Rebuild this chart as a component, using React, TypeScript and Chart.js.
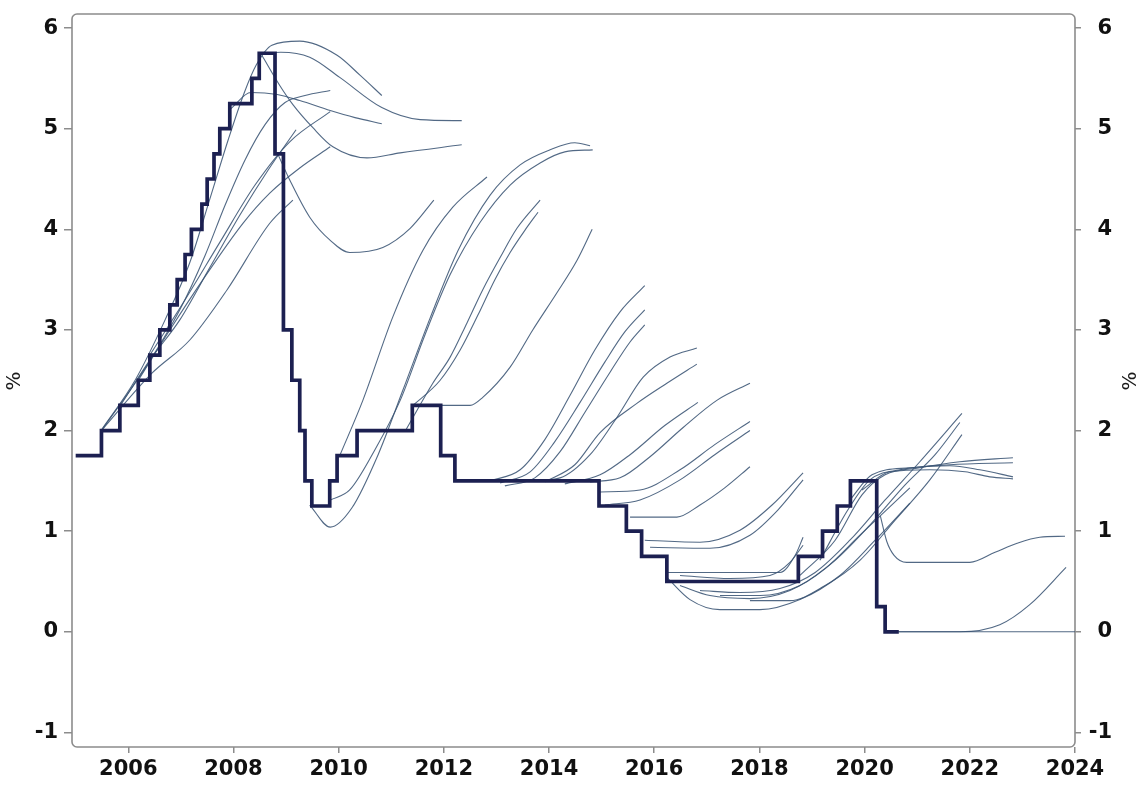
import { useEffect, useRef } from "react";
import { Chart, registerables } from "chart.js";

Chart.register(...registerables);

// ---- tick labels ----
const xTickValues = [2006, 2008, 2010, 2012, 2014, 2016, 2018, 2020, 2022, 2024];
const xTickLabels = ["2006", "2008", "2010", "2012", "2014", "2016", "2018", "2020", "2022", "2024"];
const yTickValues = [-1, 0, 1, 2, 3, 4, 5, 6];
const yTickLabels = ["-1", "0", "1", "2", "3", "4", "5", "6"];
const axisTitle = "%";

// ---- policy rate (value changes at each date) ----
const policyDates = [2005.0, 2005.49, 2005.84, 2006.19, 2006.41, 2006.6, 2006.79, 2006.93, 2007.08, 2007.2, 2007.4, 2007.5, 2007.63, 2007.74, 2007.93, 2008.35, 2008.49, 2008.79, 2008.95, 2009.11, 2009.26, 2009.36, 2009.49, 2009.83, 2009.97, 2010.35, 2011.4, 2011.94, 2012.21, 2014.95, 2015.47, 2015.76, 2016.24, 2018.74, 2019.2, 2019.48, 2019.73, 2020.23, 2020.39, 2020.65];
const policyRates = [1.75, 2.0, 2.25, 2.5, 2.75, 3.0, 3.25, 3.5, 3.75, 4.0, 4.25, 4.5, 4.75, 5.0, 5.25, 5.5, 5.75, 4.75, 3.0, 2.5, 2.0, 1.5, 1.25, 1.5, 1.75, 2.0, 2.25, 1.75, 1.5, 1.25, 1.0, 0.75, 0.5, 0.75, 1.0, 1.25, 1.5, 0.25, 0.0, 0.0];

// ---- forecast paths [year, %] ----
const fcA1 = [[2005.48, 2.0], [2006.13, 2.5], [2006.7, 3.1], [2007.17, 3.67], [2007.55, 4.3], [2007.9, 4.89], [2008.2, 5.35], [2008.43, 5.63], [2008.73, 5.83], [2009.26, 5.87], [2009.97, 5.73], [2010.41, 5.53], [2010.82, 5.33]];
const fcA2 = [[2005.49, 2.0], [2006.32, 2.62], [2006.98, 3.2], [2007.46, 3.74], [2007.84, 4.24], [2008.22, 4.69], [2008.6, 5.04], [2008.98, 5.26], [2009.36, 5.33], [2009.84, 5.38]];
const fcA3 = [[2005.84, 2.24], [2006.41, 2.7], [2006.98, 3.1], [2007.55, 3.62], [2008.12, 4.14], [2008.66, 4.59], [2009.19, 4.99]];
const fcA4 = [[2005.49, 2.0], [2006.45, 2.57], [2007.17, 2.9], [2007.88, 3.4], [2008.69, 4.06], [2009.13, 4.29]];
const fcA5 = [[2006.19, 2.5], [2006.79, 3.0], [2007.42, 3.5], [2008.18, 4.06], [2008.69, 4.36], [2009.26, 4.61], [2009.84, 4.82]];
const fcA6 = [[2006.41, 2.75], [2007.08, 3.3], [2007.74, 3.87], [2008.41, 4.44], [2009.07, 4.87], [2009.84, 5.17]];
const fcA7 = [[2008.54, 5.75], [2008.9, 5.76], [2009.45, 5.71], [2010.02, 5.51], [2010.82, 5.21], [2011.55, 5.09], [2012.34, 5.08]];
const fcA8 = [[2008.54, 5.73], [2008.88, 5.43], [2009.13, 5.24], [2009.51, 5.01], [2009.89, 4.82], [2010.54, 4.71], [2011.17, 4.76], [2012.34, 4.84]];
const fcA9 = [[2008.85, 4.74], [2009.07, 4.49], [2009.45, 4.12], [2009.84, 3.89], [2010.21, 3.77], [2010.84, 3.82], [2011.36, 4.01], [2011.81, 4.29]];
const fcA10 = [[2007.95, 5.2], [2008.33, 5.36], [2008.83, 5.34], [2009.26, 5.28], [2009.84, 5.18], [2010.31, 5.11], [2010.82, 5.05]];

const fcB1 = [[2010.02, 1.75], [2010.46, 2.3], [2011.03, 3.13], [2011.6, 3.79], [2012.17, 4.22], [2012.82, 4.52]];
const fcB2 = [[2009.45, 1.26], [2009.84, 1.04], [2010.25, 1.23], [2010.75, 1.76], [2011.22, 2.4], [2011.74, 3.12], [2012.27, 3.79], [2012.88, 4.34], [2013.45, 4.64], [2014.02, 4.79], [2014.49, 4.86], [2014.78, 4.83]];
const fcB3 = [[2009.84, 1.31], [2010.21, 1.41], [2010.69, 1.81], [2011.17, 2.3], [2011.64, 2.95], [2012.12, 3.55], [2012.69, 4.07], [2013.26, 4.44], [2013.83, 4.66], [2014.3, 4.77], [2014.83, 4.79]];
const fcB4 = [[2011.26, 1.99], [2011.79, 2.47], [2012.12, 2.73], [2012.44, 3.07], [2012.74, 3.4], [2013.07, 3.72], [2013.39, 4.01], [2013.83, 4.29]];
const fcB5 = [[2011.39, 2.24], [2011.93, 2.5], [2012.31, 2.8], [2012.65, 3.15], [2012.97, 3.5], [2013.26, 3.77], [2013.54, 3.99], [2013.79, 4.17]];
const fcB6 = [[2011.6, 2.25], [2012.5, 2.25], [2012.74, 2.33], [2013.26, 2.63], [2013.69, 3.0], [2014.15, 3.37], [2014.53, 3.69], [2014.82, 4.0]];

const fcC1 = [[2012.88, 1.5], [2013.45, 1.61], [2013.92, 1.91], [2014.4, 2.35], [2014.87, 2.8], [2015.35, 3.18], [2015.82, 3.44]];
const fcC2 = [[2013.07, 1.48], [2013.64, 1.59], [2014.11, 1.89], [2014.59, 2.28], [2015.06, 2.68], [2015.44, 2.98], [2015.82, 3.2]];
const fcC3 = [[2013.16, 1.45], [2013.73, 1.53], [2014.21, 1.79], [2014.68, 2.18], [2015.16, 2.58], [2015.54, 2.88], [2015.82, 3.05]];
const fcC4 = [[2013.64, 1.5], [2014.21, 1.53], [2014.78, 1.76], [2015.29, 2.13], [2015.79, 2.53], [2016.3, 2.73], [2016.81, 2.82]];
const fcC5 = [[2013.92, 1.49], [2014.49, 1.66], [2014.97, 1.98], [2015.67, 2.27], [2016.24, 2.47], [2016.81, 2.66]];
const fcC6 = [[2014.3, 1.47], [2014.97, 1.56], [2015.54, 1.76], [2016.2, 2.05], [2016.83, 2.28]];
const fcC7 = [[2014.78, 1.49], [2015.35, 1.53], [2015.92, 1.74], [2016.55, 2.03], [2017.19, 2.3], [2017.82, 2.47]];
const fcC8 = [[2014.97, 1.39], [2015.73, 1.41], [2016.49, 1.61], [2017.15, 1.86], [2017.82, 2.09]];
const fcC9 = [[2015.06, 1.26], [2015.73, 1.31], [2016.49, 1.51], [2017.15, 1.76], [2017.82, 2.0]];
const fcC10 = [[2015.54, 1.14], [2016.43, 1.14], [2016.87, 1.26], [2017.34, 1.43], [2017.82, 1.64]];
const fcC11 = [[2015.82, 0.91], [2016.87, 0.89], [2017.63, 1.01], [2018.24, 1.26], [2018.83, 1.58]];
const fcC12 = [[2015.92, 0.84], [2017.06, 0.83], [2017.82, 0.96], [2018.35, 1.21], [2018.83, 1.51]];

const fcD1 = [[2016.24, 0.59], [2016.87, 0.59], [2018.39, 0.59], [2018.68, 0.76], [2018.83, 0.94]];
const fcD2 = [[2016.49, 0.56], [2017.44, 0.53], [2018.2, 0.56], [2018.58, 0.69], [2018.83, 0.86]];
const fcD3 = [[2016.24, 0.54], [2016.68, 0.32], [2017.25, 0.22], [2018.01, 0.22], [2018.77, 0.32], [2019.53, 0.56], [2020.2, 0.91], [2020.86, 1.28]];
const fcD4 = [[2016.49, 0.46], [2017.06, 0.36], [2017.82, 0.33], [2018.58, 0.41], [2019.25, 0.63], [2019.91, 0.96], [2020.86, 1.43]];
const fcD5 = [[2016.87, 0.41], [2017.63, 0.39], [2018.39, 0.43], [2019.06, 0.59], [2019.72, 0.91], [2020.39, 1.31], [2021.05, 1.69], [2021.85, 2.17]];
const fcD6 = [[2017.25, 0.36], [2018.01, 0.36], [2018.77, 0.46], [2019.44, 0.71], [2020.1, 1.06], [2020.77, 1.46], [2021.34, 1.76], [2021.81, 2.08]];
const fcD7 = [[2017.82, 0.31], [2018.58, 0.31], [2019.25, 0.46], [2019.91, 0.71], [2020.58, 1.11], [2021.24, 1.51], [2021.85, 1.96]];
const fcD8 = [[2018.77, 0.56], [2019.44, 0.91], [2019.95, 1.36], [2020.39, 1.56], [2021.05, 1.63], [2021.81, 1.69], [2022.82, 1.73]];
const fcD9 = [[2019.15, 0.71], [2019.68, 1.21], [2020.1, 1.51], [2020.67, 1.61], [2021.62, 1.66], [2022.82, 1.68]];
const fcD10 = [[2019.72, 1.31], [2020.14, 1.56], [2020.86, 1.63], [2021.62, 1.65], [2022.19, 1.61], [2022.82, 1.54]];
const fcD11 = [[2019.95, 1.41], [2020.48, 1.59], [2021.24, 1.61], [2021.91, 1.59], [2022.38, 1.54], [2022.82, 1.52]];

const fcE1 = [[2020.3, 1.15], [2020.42, 0.9], [2020.56, 0.76], [2020.8, 0.69], [2022.0, 0.69], [2022.48, 0.79], [2022.9, 0.88], [2023.33, 0.94], [2023.81, 0.95]];
const fcE2 = [[2020.65, 0.0], [2021.81, 0.0], [2022.57, 0.07], [2023.14, 0.27], [2023.83, 0.64]];
const fcE3 = [[2020.39, 0.0], [2024.0, 0.0]];

const forecasts = [
  fcA1, fcA2, fcA3, fcA4, fcA5, fcA6, fcA7, fcA8, fcA9, fcA10,
  fcB1, fcB2, fcB3, fcB4, fcB5, fcB6,
  fcC1, fcC2, fcC3, fcC4, fcC5, fcC6, fcC7, fcC8, fcC9, fcC10, fcC11, fcC12,
  fcD1, fcD2, fcD3, fcD4, fcD5, fcD6, fcD7, fcD8, fcD9, fcD10, fcD11,
  fcE1, fcE2, fcE3,
];

const FORECAST_COLOR = "rgba(58, 84, 116, 0.88)";
const POLICY_COLOR = "#1c2051";
const FRAME_COLOR = "#8c8c8c";
const LABEL_COLOR = "#111111";

export default function App() {
  const ref = useRef<HTMLCanvasElement>(null);

  useEffect(() => {
    const canvas = ref.current;
    if (!canvas) return;

    const forecastSets = forecasts.map((f) => ({
      data: f.map(([x, y]) => ({ x, y })),
      borderColor: FORECAST_COLOR,
      borderWidth: 1.1,
      pointRadius: 0,
      cubicInterpolationMode: "monotone" as const,
      fill: false,
    }));

    const policySet = {
      data: policyDates.map((d, i) => ({ x: d, y: policyRates[i] })),
      stepped: "before" as const,
      borderColor: POLICY_COLOR,
      borderWidth: 3.7,
      pointRadius: 0,
      borderJoinStyle: "miter" as const,
      borderCapStyle: "butt" as const,
      fill: false,
      order: -1,
    };

    const framePlugin = {
      id: "frame",
      beforeDatasetsDraw(chart: any) {
        const { ctx, chartArea: a } = chart;
        ctx.save();
        ctx.strokeStyle = FRAME_COLOR;
        ctx.lineWidth = 1.6;
        ctx.beginPath();
        ctx.roundRect(a.left, a.top, a.right - a.left, a.bottom - a.top, 5);
        ctx.stroke();
        ctx.restore();
      },
    };

    const titlePlugin = {
      id: "pctTitles",
      afterDraw(chart: any) {
        const c = chart.ctx;
        c.save();
        c.font = '20px "DejaVu Sans"';
        c.fillStyle = "#1a1a1a";
        c.textAlign = "center";
        c.textBaseline = "middle";
        for (const x of [15, 1131]) {
          c.save();
          c.translate(x, 381);
          c.rotate(-Math.PI / 2);
          c.fillText(axisTitle, 0, 0);
          c.restore();
        }
        c.restore();
      },
    };

    const xFont = { family: '"DejaVu Sans"', size: 21, weight: "bold" as const };
    const yFont = { family: '"DejaVu Sans"', size: 21, weight: "bold" as const, lineHeight: 0.7 };
    const grid = (len: number) => ({
      drawOnChartArea: false,
      drawTicks: true,
      tickLength: len,
      color: FRAME_COLOR,
      lineWidth: 1.5,
    });
    const yScaleBase = {
      type: "linear" as const,
      min: -1.145,
      max: 6.14,
      afterBuildTicks: (s: any) => {
        s.ticks = yTickValues.map((v) => ({ value: v }));
      },
      border: { display: false },
    };

    const chart = new Chart(canvas, {
      type: "line",
      data: { datasets: [policySet as any, ...(forecastSets as any[])] },
      options: {
        animation: false,
        responsive: false,
        devicePixelRatio: 1,
        layout: { padding: { top: 14, left: 0, right: 30, bottom: 0 } },
        plugins: { legend: { display: false }, tooltip: { enabled: false } },
        scales: {
          x: {
            type: "linear",
            min: 2004.93,
            max: 2024.0,
            afterBuildTicks: (s: any) => {
              s.ticks = xTickValues.map((v) => ({ value: v }));
            },
            afterFit: (s: any) => {
              s.height = 38;
            },
            ticks: {
              font: xFont,
              color: LABEL_COLOR,
              padding: 4,
              maxRotation: 0,
              autoSkip: false,
              callback: (v: any) => xTickLabels[xTickValues.indexOf(Number(v))] ?? "",
            },
            grid: grid(6),
            border: { display: false },
          },
          y: {
            ...yScaleBase,
            position: "left",
            afterFit: (s: any) => {
              s.width = 72;
            },
            ticks: {
              font: yFont,
              color: LABEL_COLOR,
              padding: 6,
              callback: (v: any) => yTickLabels[yTickValues.indexOf(Number(v))] ?? "",
            },
            grid: grid(8),
          },
          y2: {
            ...yScaleBase,
            position: "right",
            afterFit: (s: any) => {
              s.width = 37;
            },
            ticks: {
              font: yFont,
              color: LABEL_COLOR,
              padding: 5,
              crossAlign: "far",
              callback: (v: any) => yTickLabels[yTickValues.indexOf(Number(v))] ?? "",
            },
            grid: grid(6),
          },
        },
      } as any,
      plugins: [framePlugin, titlePlugin],
    });

    return () => chart.destroy();
  }, []);

  return (
    <div style={{ position: "absolute", left: 0, top: 0, width: 1142, height: 785, background: "#ffffff" }}>
      <canvas ref={ref} width={1142} height={785} style={{ display: "block" }} />
    </div>
  );
}
